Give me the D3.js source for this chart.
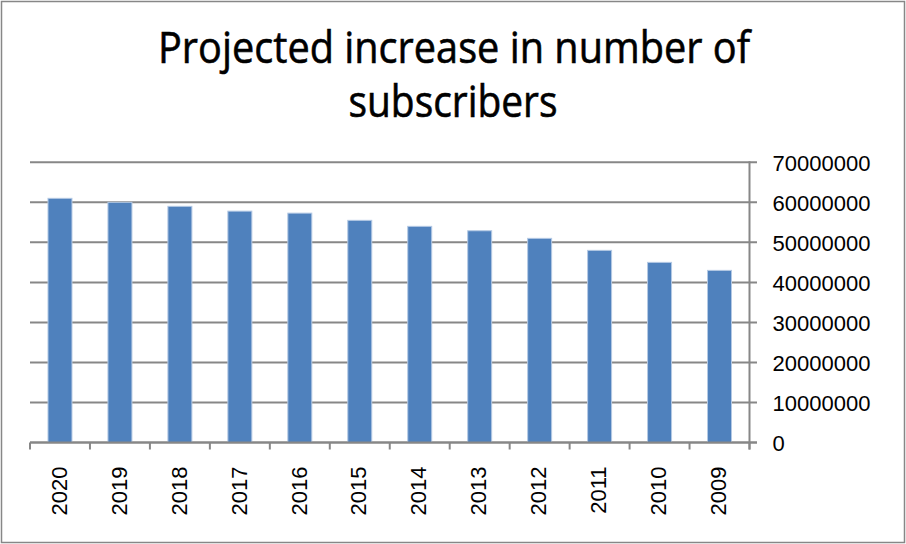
<!DOCTYPE html>
<html>
<head>
<meta charset="utf-8">
<script src="https://cdn.jsdelivr.net/npm/d3@7"></script>
<style>
  html, body { margin: 0; padding: 0; background: #fff; }
  svg { display: block; }
</style>
</head>
<body>
<svg id="chart" width="906" height="544"></svg>
<script>
// Projected subscriber counts by year (shown newest first)
const years = ["2020", "2019", "2018", "2017", "2016", "2015", "2014", "2013", "2012", "2011", "2010", "2009"];
const subscribers = [61000000, 60000000, 59000000, 57800000, 57300000, 55500000, 54000000, 52900000, 51000000, 48000000, 45000000, 43000000];
const yTicks = [0, 10000000, 20000000, 30000000, 40000000, 50000000, 60000000, 70000000];
const titleLines = ["Projected increase in number of", "subscribers"];

const svg = d3.select("#chart");
const W = 906, H = 544;
const plot = { left: 30, right: 749.5, top: 162.3, bottom: 442.5 };
const lineColor = "#878787";

// Outer chart frame
svg.append("rect")
  .attr("x", 1.5).attr("y", 1.5)
  .attr("width", W - 3).attr("height", H - 3)
  .attr("fill", "#fff")
  .attr("stroke", lineColor).attr("stroke-width", 1.5);

// Title, two lines
const titleG = svg.append("g")
  .attr("font-family", "'Open Sans', 'Liberation Sans', sans-serif")
  .attr("font-size", 44)
  .attr("fill", "#000")
  .attr("stroke", "#000")
  .attr("stroke-width", 0.6)
  .attr("text-anchor", "middle");
titleG.append("text")
  .attr("x", 454).attr("y", 63)
  .attr("textLength", 592).attr("lengthAdjust", "spacingAndGlyphs")
  .text(titleLines[0]);
titleG.append("text")
  .attr("x", 453).attr("y", 116.5)
  .attr("textLength", 209).attr("lengthAdjust", "spacingAndGlyphs")
  .text(titleLines[1]);

// Scales
const x = d3.scaleBand()
  .domain(years)
  .range([plot.left, plot.right])
  .paddingInner(0.6)
  .paddingOuter(0.3);

const y = d3.scaleLinear()
  .domain([0, 70000000])
  .range([plot.bottom, plot.top]);

// Horizontal gridlines (extended past the right axis as tick marks)
svg.append("g")
  .selectAll("line")
  .data(yTicks)
  .join("line")
  .attr("x1", plot.left).attr("x2", plot.right + 7.5)
  .attr("y1", d => y(d)).attr("y2", d => y(d))
  .attr("stroke", lineColor).attr("stroke-width", 2);

// Bars
svg.append("g")
  .selectAll("rect")
  .data(years)
  .join("rect")
  .attr("x", d => x(d))
  .attr("width", x.bandwidth())
  .attr("y", (d, i) => y(subscribers[i]))
  .attr("height", (d, i) => y(0) - y(subscribers[i]))
  .attr("fill", "#4F81BD")
  .attr("stroke", "#b4c9e4")
  .attr("stroke-width", 1);

// Right value axis
const yAxis = d3.axisRight(y)
  .tickValues(yTicks)
  .tickFormat(d3.format("d"))
  .tickSize(0)
  .tickPadding(23);
const yAxisG = svg.append("g")
  .attr("transform", `translate(${plot.right},0)`)
  .call(yAxis);
yAxisG.select(".domain").remove();
yAxisG.append("line")
  .attr("x1", 0).attr("x2", 0)
  .attr("y1", plot.top - 1).attr("y2", plot.bottom + 7)
  .attr("stroke", lineColor).attr("stroke-width", 2);
yAxisG.selectAll(".tick text")
  .attr("font-family", "'Liberation Sans', Arial, sans-serif")
  .attr("font-size", 22)
  .attr("fill", "#000")
  .attr("dy", "0.35em");

// Bottom category axis with ticks at band boundaries
const xAxisG = svg.append("g")
  .attr("transform", `translate(0,${plot.bottom})`)
  .call(d3.axisBottom(x).tickSize(0).tickPadding(0));
xAxisG.select(".domain").remove();
xAxisG.append("line")
  .attr("x1", plot.left).attr("x2", plot.right + 7.5)
  .attr("y1", 0).attr("y2", 0)
  .attr("stroke", lineColor).attr("stroke-width", 2);

const step = x.step();
const boundaries = d3.range(years.length + 1).map(i => plot.left + i * step);
xAxisG.append("g")
  .selectAll("line")
  .data(boundaries)
  .join("line")
  .attr("x1", d => d).attr("x2", d => d)
  .attr("y1", 0).attr("y2", 7)
  .attr("stroke", lineColor).attr("stroke-width", 2);

xAxisG.selectAll(".tick text")
  .attr("font-family", "'Liberation Sans', Arial, sans-serif")
  .attr("font-size", 22)
  .attr("fill", "#000")
  .attr("text-anchor", "end")
  .attr("transform", "translate(-1,24) rotate(-90)")
  .attr("dy", "0.35em")
  .attr("y", 0)
  .attr("x", 0);
</script>
</body>
</html>
